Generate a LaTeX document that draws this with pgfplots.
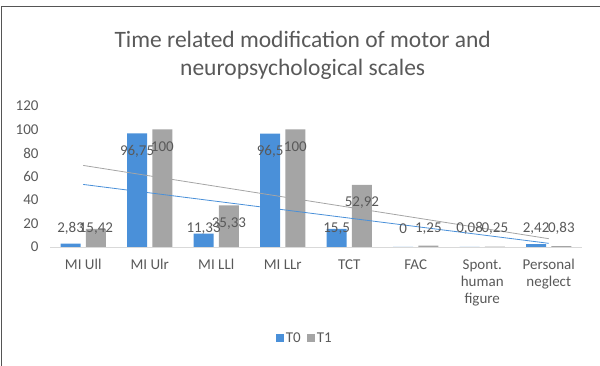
\documentclass[border=0pt]{standalone}
\usepackage{pgfplots}
\pgfplotsset{compat=1.18}
\usepackage{fontspec}
\setmainfont{Carlito}
\definecolor{cblue}{HTML}{4A90D9}
\definecolor{cgray}{HTML}{A5A5A5}
\definecolor{ctext}{HTML}{595959}
\definecolor{cframe}{HTML}{555555}
\begin{document}
\begin{tikzpicture}[x=1pt,y=1pt]
\useasboundingbox (0,0) rectangle (600,366);
\draw[cframe, line width=1.5pt] (1.5,0) -- (1.5,359.5) -- (600,359.5);
\begin{axis}[
  at={(50pt,119pt)}, anchor=south west,
  width=532pt, height=141pt, scale only axis,
  xmin=-0.5, xmax=7.5, ymin=0, ymax=120,
  ytick={0,20,...,120},
  xtick={0,...,7},
  xticklabels={MI Ull, MI Ulr, MI LLl, MI LLr, TCT, FAC, {Spont.\\human\\figure}, {Personal\\neglect}},
  axis x line*=bottom, axis y line*=left,
  y axis line style={draw=none},
  x axis line style={draw=black!15, line width=0.8pt, -},
  major tick length=0pt,
  tick label style={font=\fontsize{15}{17}\selectfont, text=ctext},
  xticklabel style={align=center, anchor=north, yshift=-9pt},
  yticklabel style={anchor=east, xshift=-8pt},
  /pgf/number format/assume math mode=true,
  title={Time related modification of motor and\\neuropsychological scales},
  title style={font=\fontsize{23.5}{28}\selectfont, text=ctext, align=center, at={(axis description cs:0.475,1.32)}, anchor=center},
  legend style={at={(axis description cs:0.479,-0.645)}, anchor=center, draw=none, fill=none, legend columns=2, font=\fontsize{15}{18}\selectfont, text=ctext, /tikz/every even column/.append style={column sep=4pt}},
  clip=false,
]
\addplot[ybar, bar width=0.3, bar shift=-0.19, fill=cblue, draw=none,
  legend image code/.code={\fill[cblue] (0pt,-4pt) rectangle (8pt,4pt);}]
  coordinates {(0,2.83) (1,96.75) (2,11.33) (3,96.5) (4,15.5) (5,0) (6,0.08) (7,2.42)};
\addlegendentry{T0}
\addplot[ybar, bar width=0.3, bar shift=0.19, fill=cgray, draw=none,
  legend image code/.code={\fill[cgray] (0pt,-4pt) rectangle (8pt,4pt);}]
  coordinates {(0,15.42) (1,100) (2,35.33) (3,100) (4,52.92) (5,1.25) (6,0.25) (7,0.83)};
\addlegendentry{T1}
\addplot[cblue, line width=0.8pt, forget plot] coordinates {(0,53.23) (7,3.13)};
\addplot[cgray, line width=0.8pt, forget plot] coordinates {(0,69.42) (7,7.07)};
\addplot[draw=none, mark=none, forget plot, nodes near coords, point meta=explicit symbolic,
  every node near coord/.style={anchor=center, inner sep=0pt, font=\fontsize{15}{18}\selectfont, text=ctext}]
  table[meta=lab] {
x y lab
-0.19 16 2,83
0.81 81.75 96,75
1.81 16 11,33
2.81 81.5 96,5
3.81 16 15,5
4.81 16 0
5.81 16 0,08
6.81 16 2,42
0.19 16 15,42
1.19 85 100
2.19 20.3 35,33
3.19 85 100
4.19 37.9 52,92
5.19 16 1,25
6.19 16 0,25
7.19 16 0,83
};
\end{axis}
\end{tikzpicture}
\end{document}
